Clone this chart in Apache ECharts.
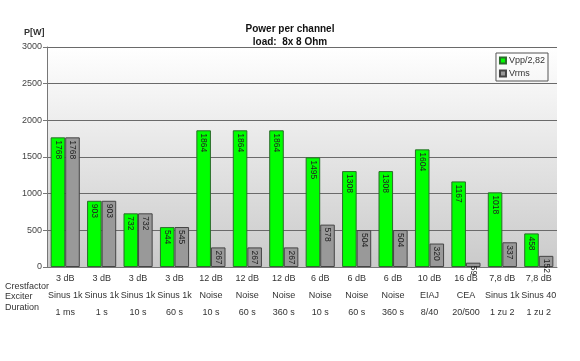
<!DOCTYPE html>
<html><head><meta charset="utf-8">
<script src="https://cdn.jsdelivr.net/npm/echarts@6/dist/echarts.min.js"></script>
<style>html,body{margin:0;padding:0;background:#fff}#c{width:580px;height:361px}</style>
</head><body><div id="c"></div>
<script>
const crest = ['3 dB','3 dB','3 dB','3 dB','12 dB','12 dB','12 dB','6 dB','6 dB','6 dB','10 dB','16 dB','7,8 dB','7,8 dB'];
const exciter = ['Sinus 1k','Sinus 1k','Sinus 1k','Sinus 1k','Noise','Noise','Noise','Noise','Noise','Noise','EIAJ','CEA','Sinus 1k','Sinus 40'];
const duration = ['1 ms','1 s','10 s','60 s','10 s','60 s','360 s','10 s','60 s','360 s','8/40','20/500','1 zu 2','1 zu 2'];
const vpp = [1768, 903, 732, 544, 1864, 1864, 1864, 1495, 1308, 1308, 1604, 1167, 1018, 458];
const vrms = [1768, 903, 732, 545, 267, 267, 267, 578, 504, 504, 320, 59, 337, 152];
const yTicks = {min: 0, max: 3000, interval: 500};

const categories = crest.map((c, i) => c + '\n' + exciter[i] + '\n' + duration[i]);
const font = 'Liberation Sans, Arial, sans-serif';
const chart = echarts.init(document.getElementById('c'));
const barLabel = {
  show: true, position: 'insideTop', rotate: -90, align: 'left', verticalAlign: 'middle',
  distance: 3, fontSize: 8.5, fontFamily: font, color: '#222'
};
chart.setOption({
  animation: false,
  title: {
    text: 'Power per channel\nload:  8x 8 Ohm', left: 'center', top: 18,
    textStyle: {fontSize: 10, fontWeight: 'bold', fontFamily: font, color: '#111', lineHeight: 13}
  },
  legend: {
    orient: 'vertical', right: 32, top: 53, itemWidth: 6, itemHeight: 6, itemGap: 4,
    borderColor: '#555', borderWidth: 1, padding: [3, 3, 3, 3],
    textStyle: {fontSize: 9, fontFamily: font, color: '#333', padding: [0, 0, 0, -2]},
    icon: 'rect', data: ['Vpp/2,82', 'Vrms']
  },
  grid: {
    left: 47, right: 23, top: 47, bottom: 94, show: true, borderWidth: 0,
    backgroundColor: new echarts.graphic.LinearGradient(0, 0, 0, 1, [
      {offset: 0, color: '#ffffff'}, {offset: 1, color: '#cacaca'}
    ])
  },
  xAxis: {
    type: 'category', data: categories,
    axisLine: {lineStyle: {color: '#777'}},
    axisTick: {length: 48, lineStyle: {color: '#777'}},
    axisLabel: {fontSize: 9, fontFamily: font, color: '#333', lineHeight: 17, margin: 3, interval: 0}
  },
  yAxis: {
    type: 'value', min: yTicks.min, max: yTicks.max, interval: yTicks.interval,
    axisLine: {show: true, lineStyle: {color: '#777'}},
    axisTick: {show: true, length: 4, lineStyle: {color: '#777'}},
    axisLabel: {fontSize: 9, fontFamily: font, color: '#444', margin: 5, formatter: v => String(v)},
    splitLine: {lineStyle: {color: '#6a6a6a', width: 1}}
  },
  graphic: [
    {type: 'text', left: 24, top: 28, style: {text: 'P[W]', fontSize: 9, fontWeight: 'bold', fontFamily: font, fill: '#333'}},
    {type: 'text', left: 5, top: 281, style: {text: 'Crestfactor\nExciter\nDuration', fontSize: 9, lineHeight: 10.5, fontFamily: font, fill: '#333'}}
  ],
  series: [
    {name: 'Vpp/2,82', type: 'bar', data: vpp, barGap: '0%', barCategoryGap: '20%',
     itemStyle: {color: '#00ff00', borderColor: '#2b6b2b', borderWidth: 1}, label: barLabel},
    {name: 'Vrms', type: 'bar', data: vrms,
     itemStyle: {color: '#999999', borderColor: '#444', borderWidth: 1}, label: barLabel}
  ]
});
</script></body></html>
